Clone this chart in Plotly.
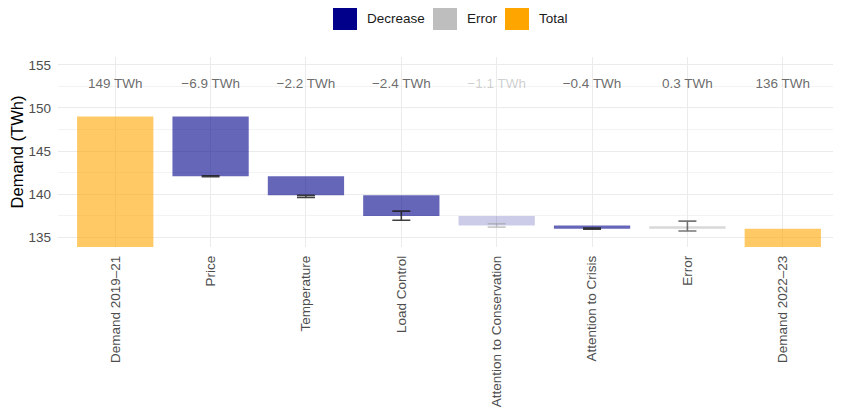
import plotly.graph_objects as go

categories = ["Demand 2019–21", "Price", "Temperature", "Load Control",
              "Attention to Conservation", "Attention to Crisis", "Error", "Demand 2022–23"]
start_total = 149.0
changes = [-6.9, -2.2, -2.4, -1.1, -0.4, 0.3]
end_total = 136.0
axis_floor = 133.9
labels = ["149 TWh", "−6.9 TWh", "−2.2 TWh", "−2.4 TWh", "−1.1 TWh", "−0.4 TWh", "0.3 TWh", "136 TWh"]
kinds = ["Total", "Decrease", "Decrease", "Decrease", "Decrease", "Decrease", "Error", "Total"]
alphas = [0.6, 0.6, 0.6, 0.6, 0.2, 0.6, 0.6, 0.6]
err_low = [None, 142.05, 139.65, 137.0, 136.2, 135.95, 135.75, None]
err_high = [None, 142.15, 139.9, 138.05, 136.6, 136.1, 136.9, None]
label_y = 152.75

rgb = {"Decrease": (0, 0, 139), "Error": (190, 190, 190), "Total": (255, 165, 0)}

# Bar geometry from the cumulative waterfall
bases, heights = [], []
level = start_total
bases.append(axis_floor); heights.append(start_total - axis_floor)
for c in changes:
    bases.append(level); heights.append(c)
    level += c
bases.append(axis_floor); heights.append(end_total - axis_floor)

colors = [f"rgba({rgb[k][0]},{rgb[k][1]},{rgb[k][2]},{a})" for k, a in zip(kinds, alphas)]

FONT = "Liberation Sans, Arial, sans-serif"

fig = go.Figure()
fig.add_trace(go.Bar(x=categories, y=heights, base=bases, width=0.8,
                     marker=dict(color=colors, line=dict(width=0)),
                     showlegend=False, hoverinfo="skip"))

def err_trace(idx, color):
    xs = [categories[i] for i in idx]
    ys = [(err_low[i] + err_high[i]) / 2 for i in idx]
    es = [(err_high[i] - err_low[i]) / 2 for i in idx]
    return go.Scatter(x=xs, y=ys, mode="markers", marker=dict(size=0.1, opacity=0),
                      error_y=dict(type="data", array=es, symmetric=True, color=color,
                                   thickness=1.6, width=9),
                      showlegend=False, hoverinfo="skip")

fig.add_trace(err_trace([1, 2, 3, 5], "rgba(30,30,30,0.85)"))
fig.add_trace(err_trace([6], "rgba(60,60,60,0.7)"))
fig.add_trace(err_trace([4], "rgba(150,150,150,0.5)"))

text_colors = ["rgba(90,90,90,0.3)" if a < 0.6 else "rgba(90,90,90,0.9)" for a in alphas]
fig.add_trace(go.Scatter(x=categories, y=[label_y] * len(categories), mode="text",
                         text=labels, textfont=dict(size=13.5, color=text_colors, family=FONT),
                         showlegend=False, hoverinfo="skip"))

# Page offset (body margin of 8px) compensation: figure coordinates
FW, FH = 833, 400
L, T = 50, 49
R, B = 1, 161
pw, ph = FW - L - R, FH - T - B
def px(x):
    return (x - L) / pw
def py(y):
    return (FH - B - y) / ph
legend_items = [("Decrease", 325), ("Error", 425), ("Total", 497)]
shapes, anns = [], []
for name, x0 in legend_items:
    r, g, b = rgb[name]
    shapes.append(dict(type="rect", xref="paper", yref="paper", x0=px(x0), x1=px(x0 + 24),
                       y0=py(22), y1=py(0), fillcolor=f"rgb({r},{g},{b})", line=dict(width=0)))
    anns.append(dict(xref="paper", yref="paper", x=px(x0 + 32), y=py(10), text=name,
                     showarrow=False, xanchor="left", yanchor="middle",
                     font=dict(size=13.5, color="#1a1a1a", family=FONT)))

fig.update_layout(
    width=FW, height=FH,
    margin=dict(l=L, r=R, t=T, b=B, autoexpand=False),
    plot_bgcolor="white", paper_bgcolor="white",
    font=dict(family=FONT),
    shapes=shapes, annotations=anns,
)
fig.update_xaxes(range=[-0.6, 7.6], tickangle=-90, showgrid=True, gridcolor="#ebebeb",
                 gridwidth=1.1, tickfont=dict(size=13.5, color="#4d4d4d"), ticks="",
                 ticklabelstandoff=5, showline=False, zeroline=False, automargin=False)
fig.update_yaxes(range=[axis_floor, 155.9], tickvals=[135, 140, 145, 150, 155],
                 showgrid=True, gridcolor="#ebebeb", gridwidth=1.1,
                 minor=dict(tickvals=[137.5, 142.5, 147.5, 152.5], showgrid=True,
                            gridcolor="#f3f3f3", gridwidth=0.6),
                 tickfont=dict(size=13.5, color="#4d4d4d"), ticks="", zeroline=False,
                 automargin=False, ticklabelstandoff=6,
                 title=dict(text="Demand (TWh)", font=dict(size=16.5, color="black"), standoff=5))

fig.write_html("out.html")
